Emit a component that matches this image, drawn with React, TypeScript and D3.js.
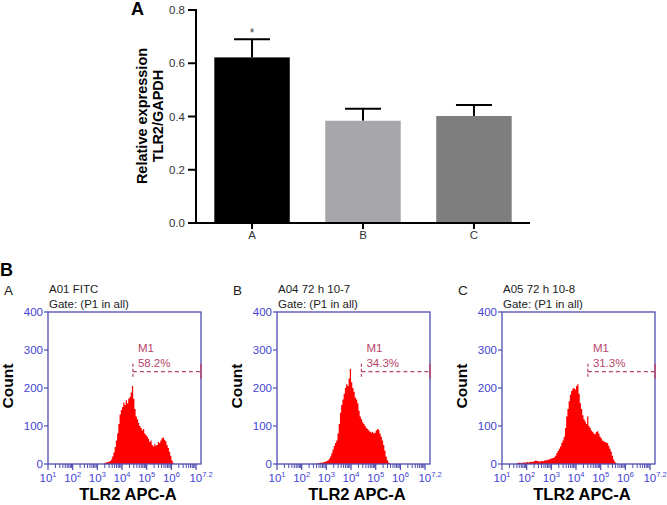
import * as d3 from "d3";

// bar chart (panel A)
const groups = ["A", "B", "C"];
const means = [0.622, 0.384, 0.402];
const errs = [0.068, 0.045, 0.041];
const barColors = ["#000000", "#a6a6ab", "#7e7e7e"];
const yTicksA = [0, 0.2, 0.4, 0.6, 0.8];

// flow histograms (panel B), counts per 0.05 log10 bin
const histTitles = ["A01 FITC", "A04 72 h 10-7", "A05 72 h 10-8"];
const histLetters = ["A", "B", "C"];
const gatePct = ["58.2%", "34.3%", "31.3%"];
const gateLog = [4.44, 4.42, 4.48];
const gateCount = 243;
const histStart = [3.25, 2.6, 1.6];
const histA = [2, 3, 4, 5, 6, 8, 12, 20, 30, 45, 62, 80, 105, 130, 142, 150, 162, 155, 168, 160, 172, 176, 188, 205, 172, 145, 125, 118, 108, 100, 95, 88, 92, 80, 76, 72, 66, 58, 62, 50, 46, 52, 48, 50, 58, 55, 62, 68, 70, 64, 60, 50, 42, 32, 22, 10, 3];
const histB = [1, 2, 2, 3, 3, 4, 5, 6, 8, 10, 14, 20, 28, 38, 48, 55, 62, 80, 105, 135, 155, 170, 185, 200, 210, 205, 225, 250, 215, 200, 190, 175, 170, 160, 140, 125, 118, 110, 105, 100, 95, 92, 88, 85, 82, 85, 80, 82, 88, 92, 90, 80, 72, 62, 50, 35, 20, 10, 4, 1];
const histC = [2, 3, 3, 2, 3, 4, 3, 4, 5, 4, 5, 6, 5, 6, 8, 9, 8, 7, 6, 7, 8, 7, 9, 10, 10, 12, 12, 14, 15, 16, 18, 22, 28, 34, 40, 46, 55, 62, 72, 95, 125, 145, 165, 182, 192, 198, 200, 196, 205, 210, 185, 160, 145, 128, 118, 112, 105, 125, 100, 95, 88, 85, 80, 78, 84, 86, 80, 72, 68, 62, 60, 58, 56, 55, 48, 40, 32, 22, 12, 6, 2];
const hists = [histA, histB, histC];
const countTicks = [0, 100, 200, 300, 400];
const decades = [1, 2, 3, 4, 5, 6];

const dimensions = { width: 667, height: 505 };
const font = "Arial, 'Liberation Sans', sans-serif";
const boxBlue = "#4d4db0";
const labelBlue = "#4343d2";
const gateColor = "#b8446a";

const panelX = [48, 277, 502];
const panelW = 153;
const plotTop = 312;
const plotBottom = 464;

const BarChart = () => {
  const y = d3.scaleLinear().domain([0, 0.8]).range([223, 10]);
  const x = d3.scaleBand().domain(groups).range([196, 530]).paddingInner(0.32).paddingOuter(0.165);
  return (
    <g fontFamily={font}>
      <text x={131} y={15} fontSize={18} fontWeight="bold">A</text>
      {groups.map((g, i) => {
        const cx = x(g)! + x.bandwidth() / 2;
        return (
          <g key={g}>
            <line x1={cx} x2={cx} y1={y(means[i])} y2={y(means[i] + errs[i])} stroke="#000" strokeWidth={2} />
            <line x1={cx - 18} x2={cx + 18} y1={y(means[i] + errs[i])} y2={y(means[i] + errs[i])} stroke="#000" strokeWidth={2} />
            <rect x={x(g)} y={y(means[i])} width={x.bandwidth()} height={y(0) - y(means[i])} fill={barColors[i]} />
            <line x1={cx} x2={cx} y1={y(0)} y2={y(0) + 6} stroke="#000" strokeWidth={2} />
            <text x={cx} y={y(0) + 16} fontSize={11.5} fill="#333" textAnchor="middle">{g}</text>
          </g>
        );
      })}
      <text x={x("A")! + x.bandwidth() / 2} y={y(means[0] + errs[0]) - 2} fontSize={12} fill="#444" textAnchor="middle">*</text>
      <line x1={196} x2={196} y1={y(0.8) - 1} y2={y(0) + 1} stroke="#000" strokeWidth={2} />
      <line x1={195} x2={530} y1={y(0)} y2={y(0)} stroke="#000" strokeWidth={2} />
      {yTicksA.map((t) => (
        <g key={t}>
          <line x1={188} x2={196} y1={y(t)} y2={y(t)} stroke="#000" strokeWidth={2} />
          <text x={185} y={y(t) + 4} fontSize={11.5} fill="#333" textAnchor="end">{t.toFixed(1)}</text>
        </g>
      ))}
      <text transform="translate(147,116) rotate(-90)" fontSize={14.5} fontWeight="bold" textAnchor="middle">Relative expression</text>
      <text transform="translate(163,116) rotate(-90)" fontSize={14.5} fontWeight="bold" textAnchor="middle">TLR2/GAPDH</text>
    </g>
  );
};

const Histogram = ({ idx }: { idx: number }) => {
  const x0 = panelX[idx];
  const x = d3.scaleLinear().domain([1, 7.2]).range([x0, x0 + panelW]);
  const y = d3.scaleLinear().domain([0, 400]).range([plotBottom, plotTop]);
  const data = hists[idx];
  const pts = data.map((c, i) => ({ l: histStart[idx] + i * 0.05, c }));
  pts.push({ l: histStart[idx] + data.length * 0.05, c: 0 });
  const area = d3.area<{ l: number; c: number }>()
    .x((d) => x(d.l))
    .y0(y(0))
    .y1((d) => y(d.c))
    .curve(d3.curveStepAfter);
  const minor: number[] = [];
  for (let d = 1; d <= 7; d++) {
    for (let k = 2; k <= 9; k++) {
      const v = d + Math.log10(k);
      if (v < 7.2) minor.push(v);
    }
  }
  const gx = x(gateLog[idx]);
  const gy = y(gateCount);
  const left = x0 - 48;
  return (
    <g fontFamily={font}>
      <text x={left + 4} y={295} fontSize={13.5} fill="#222">{histLetters[idx]}</text>
      <text x={x0 + 1} y={293} fontSize={11.5} fill="#222">{histTitles[idx]}</text>
      <text x={x0 + 1} y={308} fontSize={11.5} fill="#222">Gate: (P1 in all)</text>
      <path d={area(pts)!} fill="#ff0000" />
      <rect x={x0} y={plotTop} width={panelW} height={plotBottom - plotTop} fill="none" stroke={boxBlue} strokeWidth={1.3} />
      {countTicks.map((t) => (
        <g key={t}>
          <line x1={x0 - 4} x2={x0} y1={y(t)} y2={y(t)} stroke={boxBlue} strokeWidth={1.2} />
          <text x={x0 - 5} y={y(t) + 4} fontSize={11.5} fill={labelBlue} textAnchor="end">{t}</text>
        </g>
      ))}
      {minor.map((m) => (
        <line key={m} x1={x(m)} x2={x(m)} y1={plotBottom} y2={plotBottom + 4} stroke={boxBlue} strokeWidth={1} />
      ))}
      {[...decades, 7].map((d) => (
        <line key={"d" + d} x1={x(d)} x2={x(d)} y1={plotBottom} y2={plotBottom + 6} stroke={boxBlue} strokeWidth={1.2} />
      ))}
      {[...decades, 7.2].map((d) => (
        <text key={"t" + d} x={x(d)} y={482} fontSize={11.5} fill={labelBlue} textAnchor="middle">
          10<tspan dy={-5} fontSize={7.5}>{d}</tspan>
        </text>
      ))}
      <line x1={gx} x2={gx} y1={gy - 8} y2={gy + 7} stroke={gateColor} strokeWidth={1.2} strokeDasharray="3,2" />
      <line x1={gx} x2={x0 + panelW} y1={gy} y2={gy} stroke={gateColor} strokeWidth={1.2} strokeDasharray="4,3" />
      <line x1={x0 + panelW} x2={x0 + panelW} y1={gy - 8} y2={gy + 7} stroke={gateColor} strokeWidth={1.5} />
      <text x={gx + 5} y={352} fontSize={11.5} fill={gateColor}>M1</text>
      <text x={gx + 5} y={367} fontSize={11.5} fill={gateColor}>{gatePct[idx]}</text>
      <text transform={`translate(${left + 13},386) rotate(-90)`} fontSize={15.5} fontWeight="bold" textAnchor="middle">Count</text>
      <text x={x0 + 80} y={500} fontSize={16.5} fontWeight="bold" textAnchor="middle">TLR2 APC-A</text>
    </g>
  );
};

const App = () => {
  return (
    <svg
      width={dimensions.width}
      height={dimensions.height}
      style={{ position: "absolute", left: 0, top: 0, background: "#fff" }}
    >
      <BarChart />
      <text x={0} y={276} fontFamily={font} fontSize={18} fontWeight="bold">B</text>
      {[0, 1, 2].map((i) => (
        <Histogram key={i} idx={i} />
      ))}
    </svg>
  );
};

export default App;
